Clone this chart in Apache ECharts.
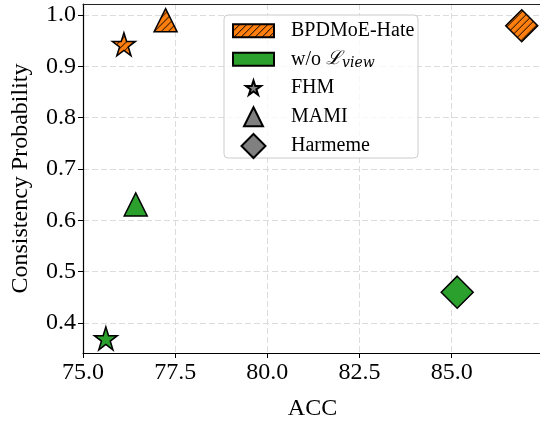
<!DOCTYPE html>
<html>
<head>
<meta charset="utf-8">
<script src="https://cdn.jsdelivr.net/npm/echarts@6/dist/echarts.min.js"></script>
<style>
  html, body { margin: 0; padding: 0; background: #fff; }
  #main { width: 540px; height: 421px; }
</style>
</head>
<body>
<div id="main"></div>
<script>
// data: [ACC, consistency probability] per dataset
var datasets = ['FHM', 'MAMI', 'Harmeme'];
var fullModel = [[76.11, 0.943], [77.24, 0.990], [86.90, 0.979]];
var noView = [[75.62, 0.370], [76.43, 0.631], [85.15, 0.460]];
var xTicks = [75.0, 77.5, 80.0, 82.5, 85.0];
var yTicks = [0.4, 0.5, 0.6, 0.7, 0.8, 0.9, 1.0];

var STAR = 'path://M0,-10 L2.245,-3.09 L9.511,-3.09 L3.633,1.18 L5.878,8.09 L0,3.82 L-5.878,8.09 L-3.633,1.18 L-9.511,-3.09 L-2.245,-3.09 Z';
var shapes = { FHM: STAR, MAMI: 'triangle', Harmeme: 'diamond' };
var sizes = { FHM: 23, MAMI: 23, Harmeme: 32 };
// legend marker sizes + y centre of each legend row
var legSize = { FHM: 15, MAMI: 19, Harmeme: 24 };
var legRow = { FHM: 87.7, MAMI: 116.2, Harmeme: 145 };
var serif = '"Liberation Serif", "DejaVu Serif", serif';
var ORANGE = '#ff7f0e', GREEN = '#2ca02c';

// hatch pattern ////
var hatchCanvas = (function () {
    var c = document.createElement('canvas');
    c.width = 7; c.height = 7;
    var g = c.getContext('2d');
    g.fillStyle = ORANGE;
    g.fillRect(0, 0, 7, 7);
    g.strokeStyle = '#000';
    g.lineWidth = 1;
    g.beginPath();
    g.moveTo(-1, 8); g.lineTo(8, -1);
    g.moveTo(-1, 1); g.lineTo(1, -1);
    g.moveTo(6, 8); g.lineTo(8, 6);
    g.stroke();
    return c;
})();
function hatch(scale) {
    return { image: hatchCanvas, repeat: 'repeat', scaleX: scale, scaleY: scale };
}

function points(arr, hatched) {
    return arr.map(function (p, i) {
        var n = datasets[i];
        var d = { value: p, symbol: shapes[n], symbolSize: sizes[n] };
        // symbols are drawn in a 2x2 box scaled by size/2, so undo that for the pattern
        if (hatched) d.itemStyle = { color: hatch(2 / sizes[n]) };
        return d;
    });
}

var legendText = {
    fontFamily: serif, fontSize: 20, color: '#000',
    rich: {
        n: { fontFamily: serif, fontSize: 20, color: '#000' },
        l: { fontFamily: '"DejaVu Serif", serif', fontSize: 19, color: '#000', fontStyle: 'italic' },
        s: { fontFamily: '"DejaVu Serif", serif', fontSize: 14, fontStyle: 'italic', color: '#000', padding: [9, 0, 0, 0] }
    }
};
function legendFor(name, icon, w, h, rowY) {
    var left = 252.5 - w / 2;
    var t = echarts.util.clone(legendText);
    t.padding = [0, 0, 0, 290 - left - w - 5];
    return {
        data: [{ name: name, icon: icon }],
        orient: 'vertical', left: left, top: rowY - Math.max(h, 20) / 2,
        itemWidth: w, itemHeight: h, padding: 0, selectedMode: false, z: 5,
        textStyle: t,
        formatter: function (nm) {
            return nm === 'w/o L_view' ? '{n|w/o }{l|ℒ}{s|view}' : nm;
        }
    };
}

var myChart = echarts.init(document.getElementById('main'));
var option = {
    animation: false,
    grid: {
        left: 83, top: 4, width: 459, height: 349,
        show: false, containLabel: false, outerBoundsMode: 'none'
    },
    xAxis: [{
        type: 'value', min: 75, max: 87.45, interval: 2.5,
        name: 'ACC', nameLocation: 'middle', nameGap: 44,
        nameTextStyle: { fontFamily: serif, fontSize: 24, color: '#000' },
        axisLine: { show: true, lineStyle: { color: '#000', width: 1.2 } },
        axisTick: { show: true, length: 5, lineStyle: { color: '#000' } },
        axisLabel: {
            fontFamily: serif, fontSize: 24, color: '#000', margin: 8, showMaxLabel: false,
            formatter: function (v) { return xTicks.indexOf(v) >= 0 ? v.toFixed(1) : ''; }
        },
        splitLine: { show: true, lineStyle: { color: '#dcdcdc', type: [6, 3], width: 1 } }
    }, {
        // top spine only
        type: 'value', position: 'top', min: 75, max: 87.45, z: 3,
        axisLine: { show: true, lineStyle: { color: '#222', width: 1.2 } },
        axisTick: { show: false }, axisLabel: { show: false }, splitLine: { show: false }
    }],
    yAxis: {
        type: 'value', min: 0.3415, max: 1.0215, splitNumber: 7,
        name: 'Consistency Probability', nameLocation: 'middle', nameGap: 50, nameRotate: 90,
        nameTextStyle: { fontFamily: serif, fontSize: 24, color: '#000' },
        axisLine: { show: true, lineStyle: { color: '#000', width: 1.2 } },
        axisTick: { show: true, length: 5, lineStyle: { color: '#000' } },
        axisLabel: {
            fontFamily: serif, fontSize: 24, color: '#000', margin: 7,
            showMinLabel: false, showMaxLabel: false,
            formatter: function (v) {
                var r = Math.round(v * 10) / 10;
                return (Math.abs(v - r) < 1e-6 && yTicks.indexOf(r) >= 0) ? r.toFixed(1) : '';
            }
        },
        splitLine: { show: true, lineStyle: { color: '#dcdcdc', type: [6, 3], width: 1 } }
    },
    graphic: [{
        type: 'rect', z: 4,
        shape: { x: 224, y: 15, width: 194, height: 143, r: 4 },
        style: { fill: 'rgba(255,255,255,0.8)', stroke: '#cccccc', lineWidth: 1 }
    }],
    legend: [
        legendFor('BPDMoE-Hate', 'rect', 41, 13, 30.7),
        legendFor('w/o L_view', 'rect', 41, 13, 59.3)
    ].concat(datasets.map(function (n) {
        return legendFor(n, shapes[n], legSize[n], legSize[n], legRow[n]);
    })),
    series: [{
        name: 'BPDMoE-Hate', type: 'scatter', z: 3,
        itemStyle: { color: hatch(1), borderColor: '#000', borderWidth: 1.5, opacity: 1 },
        data: points(fullModel, true)
    }, {
        name: 'w/o L_view', type: 'scatter', z: 3,
        itemStyle: { color: GREEN, borderColor: '#000', borderWidth: 1.5, opacity: 1 },
        data: points(noView, false)
    }].concat(datasets.map(function (n) {
        return {
            name: n, type: 'scatter', symbol: shapes[n], data: [],
            itemStyle: { color: '#808080', borderColor: '#000', borderWidth: 1.2, opacity: 1 }
        };
    }))
};
myChart.setOption(option);
</script>
</body>
</html>
